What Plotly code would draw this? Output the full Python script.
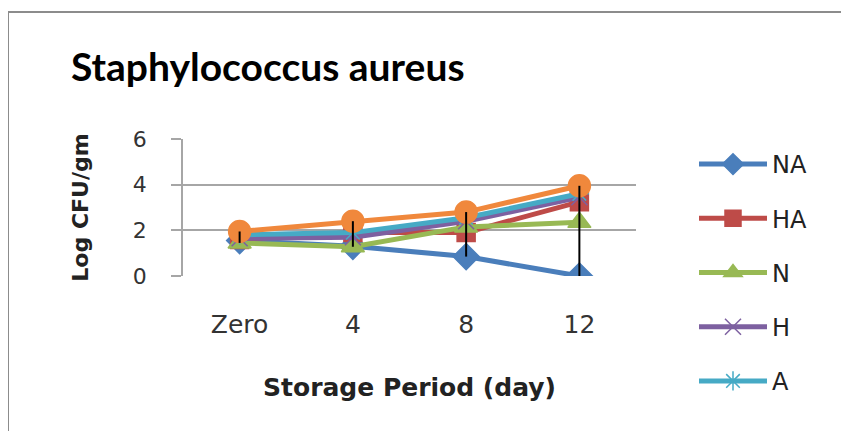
import plotly.graph_objects as go

days = ["Zero", "4", "8", "12"]
series_names = ["NA", "HA", "N", "H", "A", "C"]
na_vals = [1.55, 1.30, 0.85, 0.00]
ha_vals = [1.60, 1.90, 1.90, 3.25]
n_vals = [1.45, 1.28, 2.15, 2.35]
h_vals = [1.65, 1.70, 2.40, 3.45]
a_vals = [1.80, 1.90, 2.55, 3.60]
c_vals = [1.95, 2.40, 2.80, 3.95]
y_ticks = [0, 2, 4, 6]

all_vals = [na_vals, ha_vals, n_vals, h_vals, a_vals, c_vals]
colors = ["#4A7EBB", "#BE4B48", "#98B954", "#7D60A0", "#46AAC5", "#F0883C"]
symbols = ["diamond", "square", "triangle-up", "x-thin-open", "asterisk-open", "circle"]
msizes = [20, 18, 20, 16, 16, 22]

W, H = 841, 423
L, R, T, B = 175, 213, 131, 155
PW, PH = W - L - R, H - T - B


def px_x(x):
    return (x - L) / PW


def px_y(y):
    return (H - B - y) / PH


fig = go.Figure()
for i, (name, vals) in enumerate(zip(series_names, all_vals)):
    fig.add_trace(go.Scatter(
        x=days, y=vals, name=name, mode="lines+markers",
        line=dict(color=colors[i], width=5),
        marker=dict(symbol=symbols[i], size=msizes[i], color=colors[i],
                    line=dict(color=colors[i], width=1.5)),
        showlegend=(i < 5), legendgroup=name,
    ))

# high-low lines across series per category
hx, hy = [], []
for j, d in enumerate(days):
    col = [v[j] for v in all_vals]
    hx += [d, d, None]
    hy += [max(col), min(col), None]
fig.add_trace(go.Scatter(x=hx, y=hy, mode="lines", line=dict(color="black", width=2),
                         showlegend=False, hoverinfo="skip"))

fig.update_layout(
    width=W, height=H,
    margin=dict(l=L, r=R, t=T, b=B),
    paper_bgcolor="white", plot_bgcolor="white",
    font=dict(family="DejaVu Sans, sans-serif", color="#222"),
    showlegend=True,
    legend=dict(x=px_x(686), xanchor="left", y=px_y(134), yanchor="top",
                font=dict(family="DejaVu Sans", size=24, color="#222"),
                tracegroupgap=20, itemwidth=68, bgcolor="rgba(0,0,0,0)",
                maxheight=420),
    shapes=[dict(type="rect", xref="paper", yref="paper",
                 x0=px_x(0), x1=px_x(900), y0=px_y(500), y1=px_y(4),
                 line=dict(color="#8c8c8c", width=2), fillcolor="rgba(0,0,0,0)", layer="below")],
    annotations=[dict(text="<b>Staphylococcus aureus</b>", xref="paper", yref="paper",
                      x=px_x(259.5), y=px_y(58), xanchor="center", yanchor="middle",
                      showarrow=False,
                      font=dict(family="Lato, sans-serif", size=39, color="black"))],
)
fig.update_xaxes(
    type="category", range=[-0.5, 3.5], showgrid=False, showline=False, zeroline=False,
    ticks="", tickfont=dict(size=25, color="#333"), ticklabelstandoff=31,
    title=dict(text="<b>Storage Period (day)</b>", font=dict(size=25, color="#222"), standoff=40),
)
fig.update_yaxes(
    range=[0, 6], tickvals=y_ticks, showgrid=True, gridcolor="#a6a6a6", gridwidth=1.5,
    showline=True, linecolor="#a6a6a6", linewidth=1.5, zeroline=False,
    ticks="outside", ticklen=10, tickcolor="#a6a6a6", tickwidth=1.5,
    tickfont=dict(size=22, color="#333"), ticklabelstandoff=20,
    title=dict(text="<b>Log CFU/gm</b>", font=dict(size=22, color="#222"), standoff=38),
)

fig.write_html("out.html")
